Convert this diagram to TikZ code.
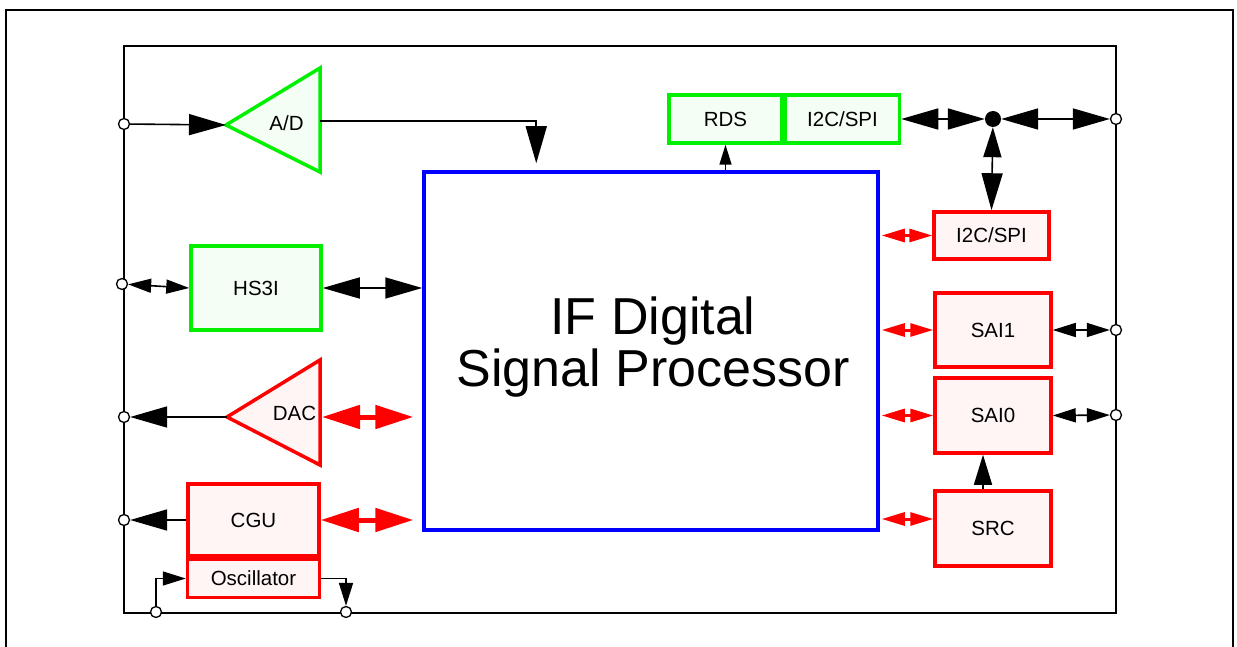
\documentclass[tikz,border=0pt]{standalone}
\usepackage{fontspec}
\setmainfont{Liberation Sans}
\usepackage{xcolor}
\usepackage{tikz}
\usetikzlibrary{positioning,arrows.meta,calc}
\definecolor{grnclr}{RGB}{0,240,0}
\definecolor{redclr}{RGB}{255,0,0}
\definecolor{dspclr}{RGB}{0,0,255}
\newcommand\boxfont{\fontsize{20.5}{23}\selectfont}
\newcommand\dspfont{\fontsize{52}{52}\selectfont}
\tikzset{
    tipL/.tip={Triangle[length=37pt,width=21pt]},
    tipM/.tip={Triangle[length=30pt,width=18pt]},
    tipS/.tip={Triangle[length=23pt,width=14pt]},
    tipT/.tip={Triangle[length=20pt,width=12pt]},
    tipR/.tip={Triangle[length=38pt,width=23pt]},
    tipr/.tip={Triangle[length=23pt,width=13pt]},
    blk/.style={rectangle,draw=redclr,line width=3.5pt,fill=redclr!4,
                inner sep=0pt,font=\boxfont},
    gblk/.style={blk,draw=grnclr,fill=grnclr!4},
    rtri/.style={draw=redclr,line width=3.5pt,fill=redclr!4,line join=miter},
    gtri/.style={rtri,draw=grnclr,fill=grnclr!4},
    wire/.style={line width=1.6pt},
    rbig/.style={draw=redclr,line width=5pt},
    rsml/.style={draw=redclr,line width=3pt},
    term/.style={circle,draw,fill=white,line width=1.3pt,
                 minimum size=11pt,inner sep=0pt},
    dot/.style={circle,fill=black,minimum size=16pt,inner sep=0pt},
}
\begin{document}
\begin{tikzpicture}[x=1pt,y=-1pt,
    chip/.style={rectangle,draw,line width=2.5pt},
    dspbox/.style={rectangle,draw=dspclr,line width=3.5pt},
]
\useasboundingbox (0,0) rectangle (1237,647);
\draw[line width=2.5pt] (6,647) -- (6,10) -- (1233,10) -- (1233,647);
\node[chip,minimum width=992pt,minimum height=567pt] (chip) at (620,329.5) {};

% processor core
\node[dspbox,minimum width=454pt,minimum height=358pt] (dsp) at (651,351) {};
\node[font=\dspfont,align=center] (dsptxt) at (653,347) {IF Digital\\Signal Processor};

% green blocks
\node[gblk,minimum width=113pt,minimum height=48pt] (rds) at (725.5,119) {RDS};
\node[gblk,minimum width=114pt,minimum height=48pt,right=0pt of rds] (hostif) {I2C/SPI};
\node[gblk,minimum width=130pt,minimum height=84pt] (hs3i) at (256,288) {HS3I};
\draw[gtri] (226,125) coordinate (adin) -- (320,68) -- (320,172) -- cycle;
\node[font=\boxfont] (ad) at (286.5,123) {A/D};
\coordinate (adout) at (320,121);

% red blocks
\node[blk,minimum width=115pt,minimum height=47pt] (ctrl) at (991.5,235.5) {I2C/SPI};
\node[blk,minimum width=116pt,minimum height=74pt] (sai1) at (993,330) {SAI1};
\node[blk,minimum width=116pt,minimum height=75pt] (sai0) at (993,415.5) {SAI0};
\node[blk,minimum width=116pt,minimum height=75pt] (src) at (993,528.5) {SRC};
\node[blk,minimum width=131pt,minimum height=72pt] (cgu) at (253.5,520) {CGU};
\node[blk,minimum width=132pt,minimum height=38pt,below=0pt of cgu] (osc) {Oscillator};
\draw[rtri] (227,417) coordinate (dacin) -- (320,360) -- (320,465) -- cycle;
\node[font=\boxfont] (dac) at (294.5,413) {DAC};
\coordinate (dacout) at (322,417);

% pins
\node[term] (tad) at (124,124) {};
\node[term] (ths) at (122,284) {};
\node[term] (tdac) at (124,417) {};
\node[term] (tcgu) at (124,520) {};
\node[term] (tosci) at (156,612) {};
\node[term] (toscu) at (346,612) {};
\node[term] (thost) at (1116,119) {};
\node[term] (tsai1) at (1116,330) {};
\node[term] (tsai0) at (1116,415) {};
\node[dot] (jn) at (993,119) {};

% black connections
\draw[wire,-tipL] (tad) -- (adin);
\draw[wire,-tipL,shorten >=7pt] (adout) -| ([xshift=114pt]dsp.north west);
\draw[wire,-tipT] (rds.south |- dsp.north) -- (rds.south);
\draw[wire,tipL-tipL] (hostif.east) -- (jn);
\draw[wire,tipL-tipL] (jn) -- (thost);
\draw[wire,tipM-tipL] (jn) -- (ctrl.north);
\draw[wire,tipS-tipS] (sai1.east) -- (tsai1);
\draw[wire,tipS-tipS] (sai0.east) -- (tsai0);
\draw[wire,-tipM] ([xshift=-10pt]src.north) -- ([xshift=-10pt]sai0.south);
\draw[wire,tipS-tipS] (ths) -- (hs3i.west);
\draw[wire,tipL-tipL] (hs3i.east) -- (hs3i.east -| dsp.west);
\draw[wire,-tipL] (dacin) -- (tdac);
\draw[wire,-tipL] (cgu.west) -- (tcgu);
\draw[wire,-tipS] (tosci) |- (osc.west);
\draw[wire,-tipS] (osc.east) -| (toscu);

% red connections
\draw[rbig,tipR-tipR,shorten >=9pt] (dacout) -- (dacout -| dsp.west);
\draw[rbig,tipR-tipR,shorten >=9pt] (cgu.east) -- (cgu.east -| dsp.west);
\draw[rsml,tipr-tipr,shorten <=2pt] (ctrl.west -| dsp.east) -- (ctrl.west);
\draw[rsml,tipr-tipr,shorten <=2pt] (sai1.west -| dsp.east) -- (sai1.west);
\draw[rsml,tipr-tipr,shorten <=2pt] (sai0.west -| dsp.east) -- (sai0.west);
\draw[rsml,tipr-tipr,shorten <=2pt] ([yshift=9.5pt]src.west -| dsp.east) -- ([yshift=9.5pt]src.west);
\end{tikzpicture}
\end{document}
